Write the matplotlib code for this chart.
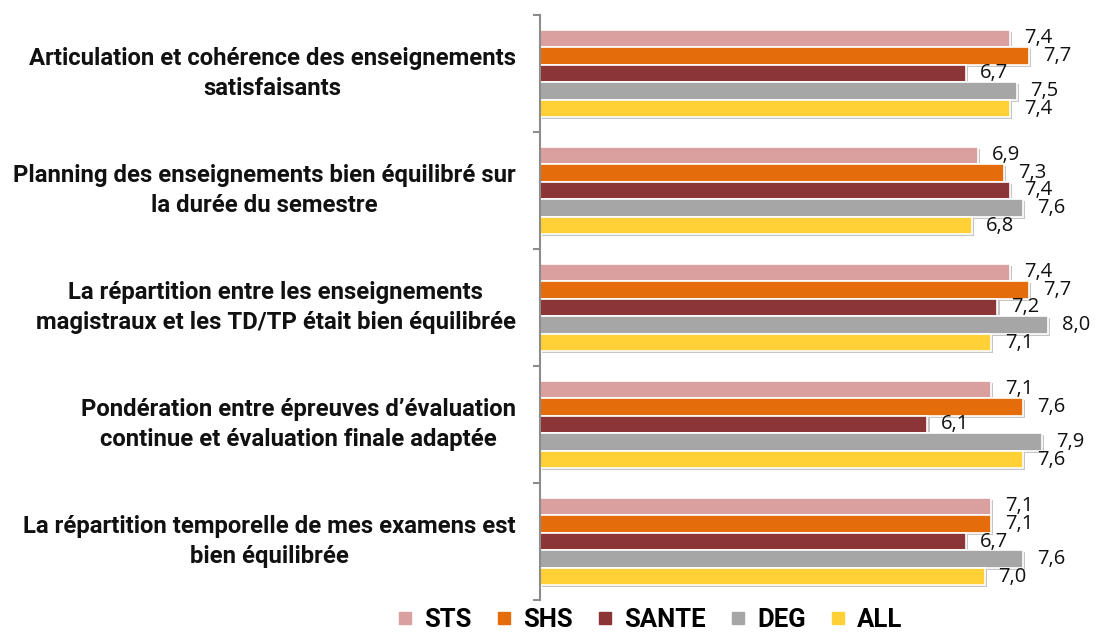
import matplotlib.pyplot as plt
import matplotlib.patheffects as pe
from matplotlib.lines import Line2D
import numpy as np

categories = [
    "Articulation et cohérence des enseignements\nsatisfaisants",
    "Planning des enseignements bien équilibré sur\nla durée du semestre",
    "La répartition entre les enseignements\nmagistraux et les TD/TP était bien équilibrée",
    "Pondération entre épreuves d’évaluation\ncontinue et évaluation finale adaptée",
    "La répartition temporelle de mes examens est\nbien équilibrée",
]
series = ["STS", "SHS", "SANTE", "DEG", "ALL"]
sts = [7.4, 6.9, 7.4, 7.1, 7.1]
shs = [7.7, 7.3, 7.7, 7.6, 7.1]
sante = [6.7, 7.4, 7.2, 6.1, 6.7]
deg = [7.5, 7.6, 8.0, 7.9, 7.6]
all_ = [7.4, 6.8, 7.1, 7.6, 7.0]
colors = ["#D9A09F", "#E46C0A", "#8B3536", "#A6A6A6", "#FFD137"]

values = [sts, shs, sante, deg, all_]

fig = plt.figure(figsize=(10.98, 6.32), dpi=100)
ax = fig.add_axes([539.5 / 1098, 1 - 600 / 632, 1 - 539.5 / 1098, 585 / 632])

y = np.arange(len(categories))
h = 0.15
shadow = [pe.SimplePatchShadow(offset=(1.5, -1.5), shadow_rgbFace="#808080", alpha=0.45), pe.Normal()]

for k, (name, vals) in enumerate(zip(series, values)):
    pos = y - 2 * h + k * h
    bars = ax.barh(pos, vals, height=h, color=colors[k], edgecolor="white", linewidth=1.2, label=name)
    for b in bars:
        b.set_path_effects(shadow)
    ax.bar_label(bars, labels=[f"{v:.1f}".replace(".", ",") for v in vals],
                 padding=10, fontsize=14.5, family="Open Sans", color="#111111")

ax.set_xlim(0, 558.5 / 63.6)
ax.set_ylim(4.5, -0.5)

for sp in ["top", "right", "bottom"]:
    ax.spines[sp].set_visible(False)
ax.spines["left"].set_color("#8c8c8c")
ax.spines["left"].set_linewidth(1.5)
ax.set_xticks([])
ax.set_yticks(np.arange(-0.5, 5, 1))
ax.set_yticklabels([])
ax.tick_params(axis="y", length=5, width=1.5, color="#8c8c8c")

for i, cat in enumerate(categories):
    ax.annotate(cat, xy=(0, i), xycoords=("axes fraction", "data"), xytext=(-17, 0),
                textcoords="offset points", ha="right", va="center", multialignment="center",
                fontsize=17.2, fontweight="bold", family="Roboto", linespacing=1.4, color="#111111")

handles = [Line2D([], [], marker="s", linestyle="none", markersize=9, color=c) for c in colors]
fig.legend(handles, series, loc="center", bbox_to_anchor=(0.59, 0.019), ncol=5, frameon=False,
           prop=dict(family="Roboto", weight="bold", size=18.5), handletextpad=0.3,
           columnspacing=0.8, handlelength=0.9)

fig.savefig("out.png", dpi=100)
